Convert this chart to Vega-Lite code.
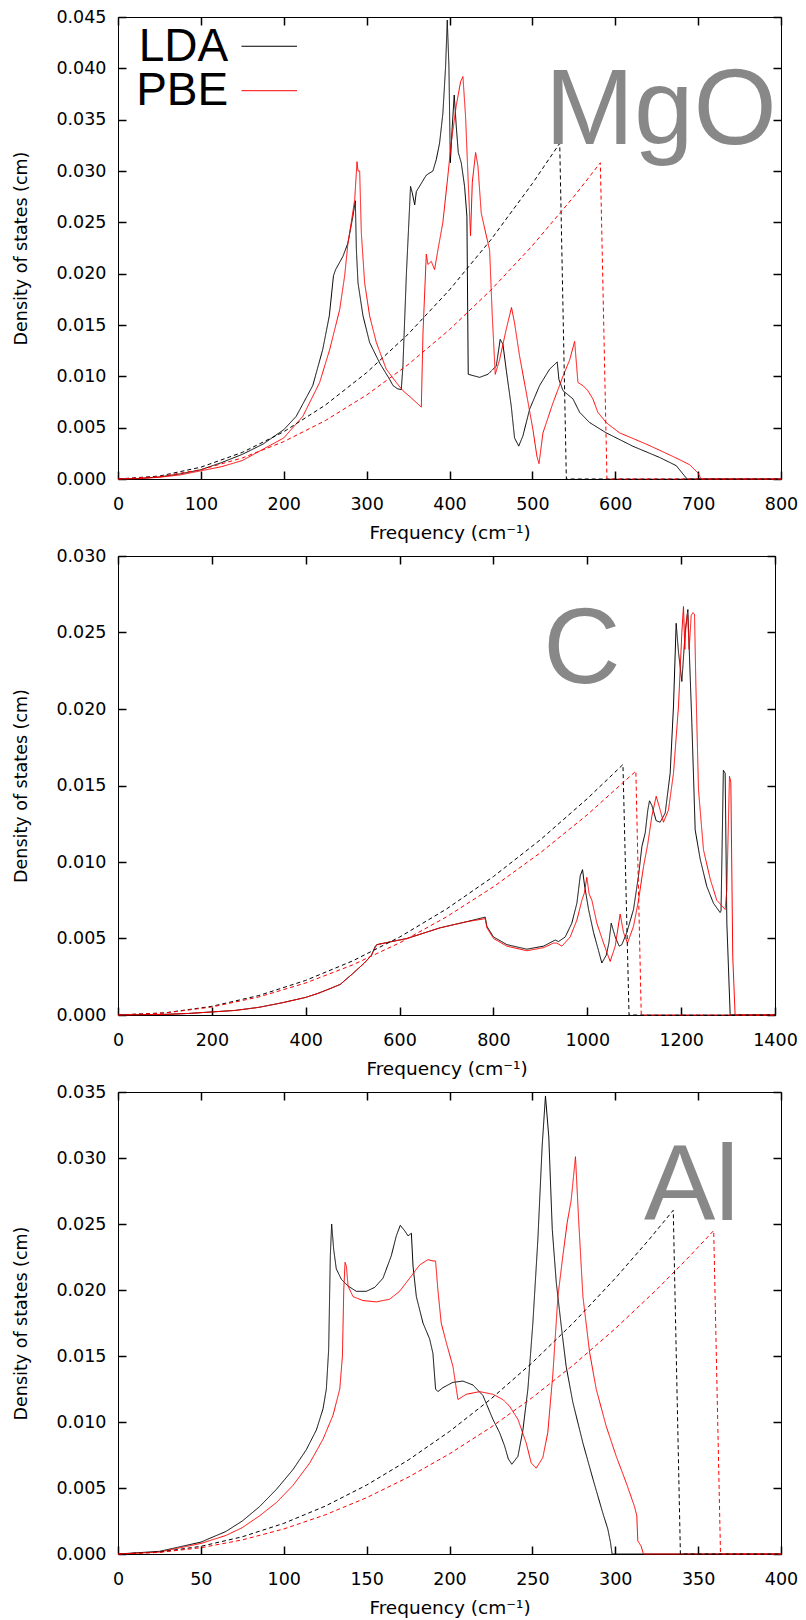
{
  "$schema": "https://vega.github.io/schema/vega-lite/v6.json",
  "background": "white",
  "padding": {"left": 12, "top": 7, "right": 4, "bottom": 2},
  "spacing": 77,
  "bounds": "flush",
  "config": {
    "view": {"stroke": "#000000", "strokeWidth": 1},
    "axis": {"grid": false, "domain": false, "tickColor": "#000000", "tickSize": 8, "offset": -8, "tickWidth": 1.5,
      "labelFont": "DejaVu Sans", "labelFontSize": 17.5, "labelColor": "#000000", "labelFlush": false, "labelOverlap": false,
      "titleFont": "DejaVu Sans", "titleFontWeight": "normal", "titleColor": "#000000"},
    "axisX": {"labelPadding": 16, "titlePadding": 10.5, "titleFontSize": 18.5},
    "axisY": {"labelPadding": 12, "titlePadding": 25, "titleFontSize": 17.5}
  },
  "datasets": {
    "curves": [
      {"p":"MgO","s":"LDA","k":"dos","f":0,"v":0},{"p":"MgO","s":"LDA","k":"dos","f":25,"v":0.00005},{"p":"MgO","s":"LDA","k":"dos","f":50,"v":0.0002},{"p":"MgO","s":"LDA","k":"dos","f":75,"v":0.0005},{"p":"MgO","s":"LDA","k":"dos","f":100,"v":0.0009},{"p":"MgO","s":"LDA","k":"dos","f":125,"v":0.0016},{"p":"MgO","s":"LDA","k":"dos","f":150,"v":0.0024},{"p":"MgO","s":"LDA","k":"dos","f":175,"v":0.0034},{"p":"MgO","s":"LDA","k":"dos","f":200,"v":0.0048},{"p":"MgO","s":"LDA","k":"dos","f":215,"v":0.0061},{"p":"MgO","s":"LDA","k":"dos","f":235,"v":0.0091},{"p":"MgO","s":"LDA","k":"dos","f":247,"v":0.0126},{"p":"MgO","s":"LDA","k":"dos","f":255,"v":0.0159},{"p":"MgO","s":"LDA","k":"dos","f":260,"v":0.0198},{"p":"MgO","s":"LDA","k":"dos","f":262.6,"v":0.0204},{"p":"MgO","s":"LDA","k":"dos","f":271.5,"v":0.0217},{"p":"MgO","s":"LDA","k":"dos","f":277.5,"v":0.023},{"p":"MgO","s":"LDA","k":"dos","f":283.5,"v":0.0256},{"p":"MgO","s":"LDA","k":"dos","f":286.4,"v":0.0271},{"p":"MgO","s":"LDA","k":"dos","f":287.6,"v":0.0224},{"p":"MgO","s":"LDA","k":"dos","f":289.6,"v":0.0191},{"p":"MgO","s":"LDA","k":"dos","f":295.6,"v":0.0159},{"p":"MgO","s":"LDA","k":"dos","f":303.6,"v":0.0133},{"p":"MgO","s":"LDA","k":"dos","f":315.7,"v":0.0113},{"p":"MgO","s":"LDA","k":"dos","f":327.8,"v":0.0097},{"p":"MgO","s":"LDA","k":"dos","f":331.8,"v":0.0091},{"p":"MgO","s":"LDA","k":"dos","f":337,"v":0.0088},{"p":"MgO","s":"LDA","k":"dos","f":341.8,"v":0.0087},{"p":"MgO","s":"LDA","k":"dos","f":343.8,"v":0.011},{"p":"MgO","s":"LDA","k":"dos","f":348,"v":0.02},{"p":"MgO","s":"LDA","k":"dos","f":353,"v":0.0285},{"p":"MgO","s":"LDA","k":"dos","f":355,"v":0.0279},{"p":"MgO","s":"LDA","k":"dos","f":358,"v":0.0267},{"p":"MgO","s":"LDA","k":"dos","f":360,"v":0.028},{"p":"MgO","s":"LDA","k":"dos","f":366,"v":0.0288},{"p":"MgO","s":"LDA","k":"dos","f":372,"v":0.0296},{"p":"MgO","s":"LDA","k":"dos","f":380,"v":0.03},{"p":"MgO","s":"LDA","k":"dos","f":384,"v":0.0311},{"p":"MgO","s":"LDA","k":"dos","f":388,"v":0.0327},{"p":"MgO","s":"LDA","k":"dos","f":392,"v":0.0356},{"p":"MgO","s":"LDA","k":"dos","f":395.3,"v":0.0402},{"p":"MgO","s":"LDA","k":"dos","f":397.3,"v":0.0447},{"p":"MgO","s":"LDA","k":"dos","f":399.3,"v":0.0402},{"p":"MgO","s":"LDA","k":"dos","f":401,"v":0.0308},{"p":"MgO","s":"LDA","k":"dos","f":403.3,"v":0.0343},{"p":"MgO","s":"LDA","k":"dos","f":405.7,"v":0.0374},{"p":"MgO","s":"LDA","k":"dos","f":408.2,"v":0.0343},{"p":"MgO","s":"LDA","k":"dos","f":410.6,"v":0.0318},{"p":"MgO","s":"LDA","k":"dos","f":414.2,"v":0.0308},{"p":"MgO","s":"LDA","k":"dos","f":418.2,"v":0.0285},{"p":"MgO","s":"LDA","k":"dos","f":421,"v":0.0256},{"p":"MgO","s":"LDA","k":"dos","f":422.6,"v":0.0102},{"p":"MgO","s":"LDA","k":"dos","f":436.3,"v":0.0099},{"p":"MgO","s":"LDA","k":"dos","f":446.4,"v":0.0102},{"p":"MgO","s":"LDA","k":"dos","f":456.4,"v":0.011},{"p":"MgO","s":"LDA","k":"dos","f":461.2,"v":0.0136},{"p":"MgO","s":"LDA","k":"dos","f":464.5,"v":0.0131},{"p":"MgO","s":"LDA","k":"dos","f":468.5,"v":0.0106},{"p":"MgO","s":"LDA","k":"dos","f":474.5,"v":0.0071},{"p":"MgO","s":"LDA","k":"dos","f":478.5,"v":0.004},{"p":"MgO","s":"LDA","k":"dos","f":483.5,"v":0.0032},{"p":"MgO","s":"LDA","k":"dos","f":488.6,"v":0.0042},{"p":"MgO","s":"LDA","k":"dos","f":496.7,"v":0.0068},{"p":"MgO","s":"LDA","k":"dos","f":508.7,"v":0.0091},{"p":"MgO","s":"LDA","k":"dos","f":520.8,"v":0.0107},{"p":"MgO","s":"LDA","k":"dos","f":530,"v":0.0114},{"p":"MgO","s":"LDA","k":"dos","f":532,"v":0.0097},{"p":"MgO","s":"LDA","k":"dos","f":537,"v":0.0086},{"p":"MgO","s":"LDA","k":"dos","f":549,"v":0.0078},{"p":"MgO","s":"LDA","k":"dos","f":557,"v":0.0065},{"p":"MgO","s":"LDA","k":"dos","f":569,"v":0.0055},{"p":"MgO","s":"LDA","k":"dos","f":589,"v":0.0045},{"p":"MgO","s":"LDA","k":"dos","f":621,"v":0.0032},{"p":"MgO","s":"LDA","k":"dos","f":653.5,"v":0.0021},{"p":"MgO","s":"LDA","k":"dos","f":673.6,"v":0.0013},{"p":"MgO","s":"LDA","k":"dos","f":683.6,"v":0.0003},{"p":"MgO","s":"LDA","k":"dos","f":686.8,"v":0},{"p":"MgO","s":"LDA","k":"dos","f":800,"v":0},

      {"p":"MgO","s":"PBE","k":"dos","f":0,"v":0},{"p":"MgO","s":"PBE","k":"dos","f":25,"v":0.00004},{"p":"MgO","s":"PBE","k":"dos","f":50,"v":0.00017},{"p":"MgO","s":"PBE","k":"dos","f":75,"v":0.0004},{"p":"MgO","s":"PBE","k":"dos","f":100,"v":0.0008},{"p":"MgO","s":"PBE","k":"dos","f":125,"v":0.0012},{"p":"MgO","s":"PBE","k":"dos","f":150,"v":0.0018},{"p":"MgO","s":"PBE","k":"dos","f":175,"v":0.0029},{"p":"MgO","s":"PBE","k":"dos","f":200,"v":0.004},{"p":"MgO","s":"PBE","k":"dos","f":223,"v":0.0061},{"p":"MgO","s":"PBE","k":"dos","f":243.3,"v":0.0094},{"p":"MgO","s":"PBE","k":"dos","f":255.4,"v":0.0126},{"p":"MgO","s":"PBE","k":"dos","f":267.5,"v":0.0165},{"p":"MgO","s":"PBE","k":"dos","f":273.5,"v":0.0198},{"p":"MgO","s":"PBE","k":"dos","f":277.5,"v":0.023},{"p":"MgO","s":"PBE","k":"dos","f":281.5,"v":0.025},{"p":"MgO","s":"PBE","k":"dos","f":285.6,"v":0.0272},{"p":"MgO","s":"PBE","k":"dos","f":288.4,"v":0.0309},{"p":"MgO","s":"PBE","k":"dos","f":289.6,"v":0.03},{"p":"MgO","s":"PBE","k":"dos","f":291.6,"v":0.03},{"p":"MgO","s":"PBE","k":"dos","f":293.6,"v":0.024},{"p":"MgO","s":"PBE","k":"dos","f":297.6,"v":0.0191},{"p":"MgO","s":"PBE","k":"dos","f":303.6,"v":0.0159},{"p":"MgO","s":"PBE","k":"dos","f":311.7,"v":0.0133},{"p":"MgO","s":"PBE","k":"dos","f":323.7,"v":0.0107},{"p":"MgO","s":"PBE","k":"dos","f":335.8,"v":0.0094},{"p":"MgO","s":"PBE","k":"dos","f":343.8,"v":0.0086},{"p":"MgO","s":"PBE","k":"dos","f":353.9,"v":0.0079},{"p":"MgO","s":"PBE","k":"dos","f":366,"v":0.007},{"p":"MgO","s":"PBE","k":"dos","f":368,"v":0.0142},{"p":"MgO","s":"PBE","k":"dos","f":372,"v":0.0219},{"p":"MgO","s":"PBE","k":"dos","f":374,"v":0.0209},{"p":"MgO","s":"PBE","k":"dos","f":378,"v":0.0212},{"p":"MgO","s":"PBE","k":"dos","f":382,"v":0.0204},{"p":"MgO","s":"PBE","k":"dos","f":386,"v":0.0223},{"p":"MgO","s":"PBE","k":"dos","f":392,"v":0.025},{"p":"MgO","s":"PBE","k":"dos","f":398,"v":0.0295},{"p":"MgO","s":"PBE","k":"dos","f":402,"v":0.0327},{"p":"MgO","s":"PBE","k":"dos","f":408,"v":0.0363},{"p":"MgO","s":"PBE","k":"dos","f":413.4,"v":0.0387},{"p":"MgO","s":"PBE","k":"dos","f":416.2,"v":0.0392},{"p":"MgO","s":"PBE","k":"dos","f":419.4,"v":0.0353},{"p":"MgO","s":"PBE","k":"dos","f":422.6,"v":0.0289},{"p":"MgO","s":"PBE","k":"dos","f":425.4,"v":0.0237},{"p":"MgO","s":"PBE","k":"dos","f":427.5,"v":0.0289},{"p":"MgO","s":"PBE","k":"dos","f":431.5,"v":0.0318},{"p":"MgO","s":"PBE","k":"dos","f":434.3,"v":0.0305},{"p":"MgO","s":"PBE","k":"dos","f":438.3,"v":0.0259},{"p":"MgO","s":"PBE","k":"dos","f":444.4,"v":0.0237},{"p":"MgO","s":"PBE","k":"dos","f":448.4,"v":0.0223},{"p":"MgO","s":"PBE","k":"dos","f":451.6,"v":0.0159},{"p":"MgO","s":"PBE","k":"dos","f":455.2,"v":0.0102},{"p":"MgO","s":"PBE","k":"dos","f":460.4,"v":0.0116},{"p":"MgO","s":"PBE","k":"dos","f":468.5,"v":0.0146},{"p":"MgO","s":"PBE","k":"dos","f":474.8,"v":0.0167},{"p":"MgO","s":"PBE","k":"dos","f":478.5,"v":0.0152},{"p":"MgO","s":"PBE","k":"dos","f":484.5,"v":0.012},{"p":"MgO","s":"PBE","k":"dos","f":492.7,"v":0.0084},{"p":"MgO","s":"PBE","k":"dos","f":500.7,"v":0.0048},{"p":"MgO","s":"PBE","k":"dos","f":505.5,"v":0.0022},{"p":"MgO","s":"PBE","k":"dos","f":508,"v":0.0015},{"p":"MgO","s":"PBE","k":"dos","f":512.8,"v":0.0045},{"p":"MgO","s":"PBE","k":"dos","f":524.8,"v":0.0074},{"p":"MgO","s":"PBE","k":"dos","f":536.9,"v":0.01},{"p":"MgO","s":"PBE","k":"dos","f":545,"v":0.0116},{"p":"MgO","s":"PBE","k":"dos","f":551,"v":0.0134},{"p":"MgO","s":"PBE","k":"dos","f":555,"v":0.0094},{"p":"MgO","s":"PBE","k":"dos","f":561,"v":0.0091},{"p":"MgO","s":"PBE","k":"dos","f":567,"v":0.0086},{"p":"MgO","s":"PBE","k":"dos","f":573,"v":0.0078},{"p":"MgO","s":"PBE","k":"dos","f":579,"v":0.0065},{"p":"MgO","s":"PBE","k":"dos","f":589,"v":0.0055},{"p":"MgO","s":"PBE","k":"dos","f":605,"v":0.0045},{"p":"MgO","s":"PBE","k":"dos","f":637.4,"v":0.0034},{"p":"MgO","s":"PBE","k":"dos","f":669.5,"v":0.0022},{"p":"MgO","s":"PBE","k":"dos","f":689.6,"v":0.0014},{"p":"MgO","s":"PBE","k":"dos","f":699.7,"v":0.0006},{"p":"MgO","s":"PBE","k":"dos","f":703.7,"v":0},{"p":"MgO","s":"PBE","k":"dos","f":800,"v":0},

      {"p":"MgO","s":"LDA","k":"debye","f":0,"v":0},{"p":"MgO","s":"LDA","k":"debye","f":50,"v":0.000288},{"p":"MgO","s":"LDA","k":"debye","f":100,"v":0.00115},{"p":"MgO","s":"LDA","k":"debye","f":150,"v":0.00259},{"p":"MgO","s":"LDA","k":"debye","f":200,"v":0.0046},{"p":"MgO","s":"LDA","k":"debye","f":250,"v":0.00719},{"p":"MgO","s":"LDA","k":"debye","f":300,"v":0.01036},{"p":"MgO","s":"LDA","k":"debye","f":350,"v":0.0141},{"p":"MgO","s":"LDA","k":"debye","f":400,"v":0.01842},{"p":"MgO","s":"LDA","k":"debye","f":450,"v":0.02331},{"p":"MgO","s":"LDA","k":"debye","f":500,"v":0.02878},{"p":"MgO","s":"LDA","k":"debye","f":533,"v":0.0327},{"p":"MgO","s":"LDA","k":"debye","f":541,"v":0},{"p":"MgO","s":"LDA","k":"debye","f":800,"v":0},

      {"p":"MgO","s":"PBE","k":"debye","f":0,"v":0},{"p":"MgO","s":"PBE","k":"debye","f":50,"v":0.000227},{"p":"MgO","s":"PBE","k":"debye","f":100,"v":0.000909},{"p":"MgO","s":"PBE","k":"debye","f":150,"v":0.00205},{"p":"MgO","s":"PBE","k":"debye","f":200,"v":0.00364},{"p":"MgO","s":"PBE","k":"debye","f":250,"v":0.00568},{"p":"MgO","s":"PBE","k":"debye","f":300,"v":0.00818},{"p":"MgO","s":"PBE","k":"debye","f":350,"v":0.01114},{"p":"MgO","s":"PBE","k":"debye","f":400,"v":0.01455},{"p":"MgO","s":"PBE","k":"debye","f":450,"v":0.01841},{"p":"MgO","s":"PBE","k":"debye","f":500,"v":0.02273},{"p":"MgO","s":"PBE","k":"debye","f":550,"v":0.0275},{"p":"MgO","s":"PBE","k":"debye","f":582,"v":0.0308},{"p":"MgO","s":"PBE","k":"debye","f":590,"v":0},{"p":"MgO","s":"PBE","k":"debye","f":800,"v":0},

      {"p":"C","s":"LDA","k":"dos","f":0,"v":0},{"p":"C","s":"LDA","k":"dos","f":100,"v":0.00004},{"p":"C","s":"LDA","k":"dos","f":150,"v":0.0001},{"p":"C","s":"LDA","k":"dos","f":200,"v":0.0002},{"p":"C","s":"LDA","k":"dos","f":250,"v":0.0003},{"p":"C","s":"LDA","k":"dos","f":300,"v":0.0005},{"p":"C","s":"LDA","k":"dos","f":350,"v":0.0008},{"p":"C","s":"LDA","k":"dos","f":400,"v":0.00115},{"p":"C","s":"LDA","k":"dos","f":425,"v":0.0014},{"p":"C","s":"LDA","k":"dos","f":450,"v":0.0017},{"p":"C","s":"LDA","k":"dos","f":473.6,"v":0.002},{"p":"C","s":"LDA","k":"dos","f":500,"v":0.0027},{"p":"C","s":"LDA","k":"dos","f":525,"v":0.0034},{"p":"C","s":"LDA","k":"dos","f":540,"v":0.0039},{"p":"C","s":"LDA","k":"dos","f":548.2,"v":0.0045},{"p":"C","s":"LDA","k":"dos","f":551.7,"v":0.0046},{"p":"C","s":"LDA","k":"dos","f":615.6,"v":0.005},{"p":"C","s":"LDA","k":"dos","f":686.6,"v":0.0057},{"p":"C","s":"LDA","k":"dos","f":743.4,"v":0.0061},{"p":"C","s":"LDA","k":"dos","f":782.5,"v":0.0064},{"p":"C","s":"LDA","k":"dos","f":786,"v":0.0058},{"p":"C","s":"LDA","k":"dos","f":800.2,"v":0.0051},{"p":"C","s":"LDA","k":"dos","f":828.7,"v":0.0046},{"p":"C","s":"LDA","k":"dos","f":871.3,"v":0.0043},{"p":"C","s":"LDA","k":"dos","f":906.8,"v":0.0045},{"p":"C","s":"LDA","k":"dos","f":931.6,"v":0.0049},{"p":"C","s":"LDA","k":"dos","f":938.8,"v":0.0048},{"p":"C","s":"LDA","k":"dos","f":953,"v":0.0051},{"p":"C","s":"LDA","k":"dos","f":967,"v":0.006},{"p":"C","s":"LDA","k":"dos","f":977.8,"v":0.0073},{"p":"C","s":"LDA","k":"dos","f":985,"v":0.0091},{"p":"C","s":"LDA","k":"dos","f":989.9,"v":0.0095},{"p":"C","s":"LDA","k":"dos","f":994,"v":0.0085},{"p":"C","s":"LDA","k":"dos","f":1002.7,"v":0.0069},{"p":"C","s":"LDA","k":"dos","f":1013.3,"v":0.0054},{"p":"C","s":"LDA","k":"dos","f":1024,"v":0.0042},{"p":"C","s":"LDA","k":"dos","f":1031,"v":0.0034},{"p":"C","s":"LDA","k":"dos","f":1040.3,"v":0.0039},{"p":"C","s":"LDA","k":"dos","f":1046,"v":0.0047},{"p":"C","s":"LDA","k":"dos","f":1051,"v":0.006},{"p":"C","s":"LDA","k":"dos","f":1059.5,"v":0.0051},{"p":"C","s":"LDA","k":"dos","f":1068,"v":0.0045},{"p":"C","s":"LDA","k":"dos","f":1073.7,"v":0.0046},{"p":"C","s":"LDA","k":"dos","f":1084.3,"v":0.0054},{"p":"C","s":"LDA","k":"dos","f":1098.5,"v":0.0069},{"p":"C","s":"LDA","k":"dos","f":1109.2,"v":0.0091},{"p":"C","s":"LDA","k":"dos","f":1116.3,"v":0.011},{"p":"C","s":"LDA","k":"dos","f":1123.4,"v":0.0119},{"p":"C","s":"LDA","k":"dos","f":1129,"v":0.0134},{"p":"C","s":"LDA","k":"dos","f":1132.6,"v":0.014},{"p":"C","s":"LDA","k":"dos","f":1137.6,"v":0.0137},{"p":"C","s":"LDA","k":"dos","f":1146.8,"v":0.0127},{"p":"C","s":"LDA","k":"dos","f":1155.3,"v":0.0126},{"p":"C","s":"LDA","k":"dos","f":1166,"v":0.0132},{"p":"C","s":"LDA","k":"dos","f":1176.6,"v":0.0158},{"p":"C","s":"LDA","k":"dos","f":1183.7,"v":0.0202},{"p":"C","s":"LDA","k":"dos","f":1189.4,"v":0.0256},{"p":"C","s":"LDA","k":"dos","f":1194.4,"v":0.0237},{"p":"C","s":"LDA","k":"dos","f":1201.5,"v":0.0218},{"p":"C","s":"LDA","k":"dos","f":1208.6,"v":0.025},{"p":"C","s":"LDA","k":"dos","f":1214.3,"v":0.0265},{"p":"C","s":"LDA","k":"dos","f":1217.8,"v":0.0234},{"p":"C","s":"LDA","k":"dos","f":1222.8,"v":0.0191},{"p":"C","s":"LDA","k":"dos","f":1229.9,"v":0.0121},{"p":"C","s":"LDA","k":"dos","f":1240.5,"v":0.0102},{"p":"C","s":"LDA","k":"dos","f":1254.7,"v":0.0084},{"p":"C","s":"LDA","k":"dos","f":1269,"v":0.0073},{"p":"C","s":"LDA","k":"dos","f":1283,"v":0.0067},{"p":"C","s":"LDA","k":"dos","f":1285,"v":0.0068},{"p":"C","s":"LDA","k":"dos","f":1290,"v":0.016},{"p":"C","s":"LDA","k":"dos","f":1293.8,"v":0.0158},{"p":"C","s":"LDA","k":"dos","f":1297.4,"v":0.006},{"p":"C","s":"LDA","k":"dos","f":1304.5,"v":0},{"p":"C","s":"LDA","k":"dos","f":1400,"v":0},

      {"p":"C","s":"PBE","k":"dos","f":0,"v":0},{"p":"C","s":"PBE","k":"dos","f":100,"v":0.00004},{"p":"C","s":"PBE","k":"dos","f":150,"v":0.0001},{"p":"C","s":"PBE","k":"dos","f":200,"v":0.0002},{"p":"C","s":"PBE","k":"dos","f":250,"v":0.0003},{"p":"C","s":"PBE","k":"dos","f":300,"v":0.0005},{"p":"C","s":"PBE","k":"dos","f":350,"v":0.0008},{"p":"C","s":"PBE","k":"dos","f":400,"v":0.00115},{"p":"C","s":"PBE","k":"dos","f":425,"v":0.0014},{"p":"C","s":"PBE","k":"dos","f":450,"v":0.0017},{"p":"C","s":"PBE","k":"dos","f":473.6,"v":0.002},{"p":"C","s":"PBE","k":"dos","f":500,"v":0.0027},{"p":"C","s":"PBE","k":"dos","f":525,"v":0.0034},{"p":"C","s":"PBE","k":"dos","f":540,"v":0.0039},{"p":"C","s":"PBE","k":"dos","f":548.2,"v":0.0044},{"p":"C","s":"PBE","k":"dos","f":551.7,"v":0.0046},{"p":"C","s":"PBE","k":"dos","f":615.6,"v":0.005},{"p":"C","s":"PBE","k":"dos","f":686.6,"v":0.0057},{"p":"C","s":"PBE","k":"dos","f":743.4,"v":0.0061},{"p":"C","s":"PBE","k":"dos","f":782.5,"v":0.0063},{"p":"C","s":"PBE","k":"dos","f":786,"v":0.0057},{"p":"C","s":"PBE","k":"dos","f":800.2,"v":0.005},{"p":"C","s":"PBE","k":"dos","f":828.7,"v":0.0045},{"p":"C","s":"PBE","k":"dos","f":871.3,"v":0.0042},{"p":"C","s":"PBE","k":"dos","f":906.8,"v":0.0044},{"p":"C","s":"PBE","k":"dos","f":928,"v":0.0047},{"p":"C","s":"PBE","k":"dos","f":935.2,"v":0.0047},{"p":"C","s":"PBE","k":"dos","f":945.9,"v":0.0045},{"p":"C","s":"PBE","k":"dos","f":963.6,"v":0.0051},{"p":"C","s":"PBE","k":"dos","f":977.8,"v":0.0062},{"p":"C","s":"PBE","k":"dos","f":988.5,"v":0.0075},{"p":"C","s":"PBE","k":"dos","f":994,"v":0.008},{"p":"C","s":"PBE","k":"dos","f":999,"v":0.009},{"p":"C","s":"PBE","k":"dos","f":1004,"v":0.0079},{"p":"C","s":"PBE","k":"dos","f":1009.8,"v":0.0075},{"p":"C","s":"PBE","k":"dos","f":1020.4,"v":0.006},{"p":"C","s":"PBE","k":"dos","f":1034.6,"v":0.0047},{"p":"C","s":"PBE","k":"dos","f":1048.8,"v":0.0035},{"p":"C","s":"PBE","k":"dos","f":1059.5,"v":0.0045},{"p":"C","s":"PBE","k":"dos","f":1070,"v":0.0066},{"p":"C","s":"PBE","k":"dos","f":1077.2,"v":0.0054},{"p":"C","s":"PBE","k":"dos","f":1085.7,"v":0.0047},{"p":"C","s":"PBE","k":"dos","f":1098.5,"v":0.0058},{"p":"C","s":"PBE","k":"dos","f":1109.2,"v":0.0075},{"p":"C","s":"PBE","k":"dos","f":1119.8,"v":0.0097},{"p":"C","s":"PBE","k":"dos","f":1129,"v":0.0112},{"p":"C","s":"PBE","k":"dos","f":1137.6,"v":0.013},{"p":"C","s":"PBE","k":"dos","f":1146.8,"v":0.0143},{"p":"C","s":"PBE","k":"dos","f":1155.3,"v":0.0134},{"p":"C","s":"PBE","k":"dos","f":1162.4,"v":0.0126},{"p":"C","s":"PBE","k":"dos","f":1173,"v":0.0134},{"p":"C","s":"PBE","k":"dos","f":1183.7,"v":0.0158},{"p":"C","s":"PBE","k":"dos","f":1194.4,"v":0.0202},{"p":"C","s":"PBE","k":"dos","f":1201.5,"v":0.025},{"p":"C","s":"PBE","k":"dos","f":1205,"v":0.0267},{"p":"C","s":"PBE","k":"dos","f":1207.9,"v":0.0239},{"p":"C","s":"PBE","k":"dos","f":1210,"v":0.0254},{"p":"C","s":"PBE","k":"dos","f":1213.6,"v":0.0263},{"p":"C","s":"PBE","k":"dos","f":1217.1,"v":0.0239},{"p":"C","s":"PBE","k":"dos","f":1221.4,"v":0.0261},{"p":"C","s":"PBE","k":"dos","f":1225,"v":0.0263},{"p":"C","s":"PBE","k":"dos","f":1228.5,"v":0.0262},{"p":"C","s":"PBE","k":"dos","f":1231.3,"v":0.0217},{"p":"C","s":"PBE","k":"dos","f":1237,"v":0.0147},{"p":"C","s":"PBE","k":"dos","f":1247.6,"v":0.0108},{"p":"C","s":"PBE","k":"dos","f":1261.8,"v":0.0089},{"p":"C","s":"PBE","k":"dos","f":1276,"v":0.0075},{"p":"C","s":"PBE","k":"dos","f":1293.8,"v":0.0069},{"p":"C","s":"PBE","k":"dos","f":1297.4,"v":0.0082},{"p":"C","s":"PBE","k":"dos","f":1303,"v":0.0156},{"p":"C","s":"PBE","k":"dos","f":1305.9,"v":0.0152},{"p":"C","s":"PBE","k":"dos","f":1310,"v":0.0038},{"p":"C","s":"PBE","k":"dos","f":1315,"v":0},{"p":"C","s":"PBE","k":"dos","f":1400,"v":0},

      {"p":"C","s":"LDA","k":"debye","f":0,"v":0},{"p":"C","s":"LDA","k":"debye","f":100,"v":0.000141},{"p":"C","s":"LDA","k":"debye","f":200,"v":0.000566},{"p":"C","s":"LDA","k":"debye","f":300,"v":0.001272},{"p":"C","s":"LDA","k":"debye","f":400,"v":0.002262},{"p":"C","s":"LDA","k":"debye","f":500,"v":0.003535},{"p":"C","s":"LDA","k":"debye","f":600,"v":0.00509},{"p":"C","s":"LDA","k":"debye","f":700,"v":0.006928},{"p":"C","s":"LDA","k":"debye","f":800,"v":0.009049},{"p":"C","s":"LDA","k":"debye","f":900,"v":0.011453},{"p":"C","s":"LDA","k":"debye","f":1000,"v":0.014139},{"p":"C","s":"LDA","k":"debye","f":1076,"v":0.01637},{"p":"C","s":"LDA","k":"debye","f":1089,"v":0},{"p":"C","s":"LDA","k":"debye","f":1400,"v":0},

      {"p":"C","s":"PBE","k":"debye","f":0,"v":0},{"p":"C","s":"PBE","k":"debye","f":100,"v":0.000131},{"p":"C","s":"PBE","k":"debye","f":200,"v":0.000524},{"p":"C","s":"PBE","k":"debye","f":300,"v":0.001178},{"p":"C","s":"PBE","k":"debye","f":400,"v":0.002094},{"p":"C","s":"PBE","k":"debye","f":500,"v":0.003273},{"p":"C","s":"PBE","k":"debye","f":600,"v":0.004713},{"p":"C","s":"PBE","k":"debye","f":700,"v":0.006414},{"p":"C","s":"PBE","k":"debye","f":800,"v":0.008378},{"p":"C","s":"PBE","k":"debye","f":900,"v":0.010603},{"p":"C","s":"PBE","k":"debye","f":1000,"v":0.01309},{"p":"C","s":"PBE","k":"debye","f":1103.5,"v":0.01594},{"p":"C","s":"PBE","k":"debye","f":1115,"v":0},{"p":"C","s":"PBE","k":"debye","f":1400,"v":0},

      {"p":"Al","s":"LDA","k":"dos","f":0,"v":0},{"p":"Al","s":"LDA","k":"dos","f":25,"v":0.0002},{"p":"Al","s":"LDA","k":"dos","f":50,"v":0.0009},{"p":"Al","s":"LDA","k":"dos","f":65,"v":0.0017},{"p":"Al","s":"LDA","k":"dos","f":75,"v":0.0025},{"p":"Al","s":"LDA","k":"dos","f":85.5,"v":0.0036},{"p":"Al","s":"LDA","k":"dos","f":95.6,"v":0.0049},{"p":"Al","s":"LDA","k":"dos","f":105.6,"v":0.0064},{"p":"Al","s":"LDA","k":"dos","f":113.6,"v":0.0079},{"p":"Al","s":"LDA","k":"dos","f":119.7,"v":0.0094},{"p":"Al","s":"LDA","k":"dos","f":123.7,"v":0.011},{"p":"Al","s":"LDA","k":"dos","f":125.7,"v":0.0125},{"p":"Al","s":"LDA","k":"dos","f":127.1,"v":0.0155},{"p":"Al","s":"LDA","k":"dos","f":128.1,"v":0.0226},{"p":"Al","s":"LDA","k":"dos","f":128.9,"v":0.025},{"p":"Al","s":"LDA","k":"dos","f":130.1,"v":0.0231},{"p":"Al","s":"LDA","k":"dos","f":131.7,"v":0.0216},{"p":"Al","s":"LDA","k":"dos","f":134.8,"v":0.0208},{"p":"Al","s":"LDA","k":"dos","f":138.8,"v":0.0203},{"p":"Al","s":"LDA","k":"dos","f":143.8,"v":0.0199},{"p":"Al","s":"LDA","k":"dos","f":149.8,"v":0.0199},{"p":"Al","s":"LDA","k":"dos","f":154.9,"v":0.0202},{"p":"Al","s":"LDA","k":"dos","f":159.9,"v":0.0209},{"p":"Al","s":"LDA","k":"dos","f":164.9,"v":0.0226},{"p":"Al","s":"LDA","k":"dos","f":167.9,"v":0.0241},{"p":"Al","s":"LDA","k":"dos","f":170.3,"v":0.0249},{"p":"Al","s":"LDA","k":"dos","f":172.9,"v":0.0245},{"p":"Al","s":"LDA","k":"dos","f":175,"v":0.0241},{"p":"Al","s":"LDA","k":"dos","f":177,"v":0.0243},{"p":"Al","s":"LDA","k":"dos","f":178,"v":0.0218},{"p":"Al","s":"LDA","k":"dos","f":180,"v":0.0195},{"p":"Al","s":"LDA","k":"dos","f":184,"v":0.0175},{"p":"Al","s":"LDA","k":"dos","f":188,"v":0.0163},{"p":"Al","s":"LDA","k":"dos","f":190,"v":0.0152},{"p":"Al","s":"LDA","k":"dos","f":191.6,"v":0.0125},{"p":"Al","s":"LDA","k":"dos","f":193,"v":0.0123},{"p":"Al","s":"LDA","k":"dos","f":196,"v":0.0126},{"p":"Al","s":"LDA","k":"dos","f":202,"v":0.013},{"p":"Al","s":"LDA","k":"dos","f":208.1,"v":0.0131},{"p":"Al","s":"LDA","k":"dos","f":214.2,"v":0.0128},{"p":"Al","s":"LDA","k":"dos","f":220.2,"v":0.012},{"p":"Al","s":"LDA","k":"dos","f":226.2,"v":0.0102},{"p":"Al","s":"LDA","k":"dos","f":230.2,"v":0.0092},{"p":"Al","s":"LDA","k":"dos","f":233.2,"v":0.0082},{"p":"Al","s":"LDA","k":"dos","f":235.5,"v":0.0072},{"p":"Al","s":"LDA","k":"dos","f":237.6,"v":0.0068},{"p":"Al","s":"LDA","k":"dos","f":241.3,"v":0.0074},{"p":"Al","s":"LDA","k":"dos","f":244.3,"v":0.0094},{"p":"Al","s":"LDA","k":"dos","f":247.3,"v":0.0125},{"p":"Al","s":"LDA","k":"dos","f":250.3,"v":0.0175},{"p":"Al","s":"LDA","k":"dos","f":253.3,"v":0.0238},{"p":"Al","s":"LDA","k":"dos","f":255.9,"v":0.0309},{"p":"Al","s":"LDA","k":"dos","f":257.9,"v":0.0347},{"p":"Al","s":"LDA","k":"dos","f":259.9,"v":0.0316},{"p":"Al","s":"LDA","k":"dos","f":262,"v":0.0246},{"p":"Al","s":"LDA","k":"dos","f":264.4,"v":0.0206},{"p":"Al","s":"LDA","k":"dos","f":267.4,"v":0.0173},{"p":"Al","s":"LDA","k":"dos","f":270.4,"v":0.0142},{"p":"Al","s":"LDA","k":"dos","f":274.4,"v":0.0115},{"p":"Al","s":"LDA","k":"dos","f":280.5,"v":0.0084},{"p":"Al","s":"LDA","k":"dos","f":286.5,"v":0.0057},{"p":"Al","s":"LDA","k":"dos","f":292.5,"v":0.0031},{"p":"Al","s":"LDA","k":"dos","f":295.5,"v":0.0019},{"p":"Al","s":"LDA","k":"dos","f":297.1,"v":0.0009},{"p":"Al","s":"LDA","k":"dos","f":298.1,"v":0},{"p":"Al","s":"LDA","k":"dos","f":400,"v":0},

      {"p":"Al","s":"PBE","k":"dos","f":0,"v":0},{"p":"Al","s":"PBE","k":"dos","f":25,"v":0.00015},{"p":"Al","s":"PBE","k":"dos","f":50,"v":0.0008},{"p":"Al","s":"PBE","k":"dos","f":65,"v":0.0014},{"p":"Al","s":"PBE","k":"dos","f":75,"v":0.002},{"p":"Al","s":"PBE","k":"dos","f":85.5,"v":0.0029},{"p":"Al","s":"PBE","k":"dos","f":95.6,"v":0.0039},{"p":"Al","s":"PBE","k":"dos","f":105.6,"v":0.0052},{"p":"Al","s":"PBE","k":"dos","f":115.7,"v":0.0069},{"p":"Al","s":"PBE","k":"dos","f":123.7,"v":0.0087},{"p":"Al","s":"PBE","k":"dos","f":129.7,"v":0.0105},{"p":"Al","s":"PBE","k":"dos","f":133.8,"v":0.0125},{"p":"Al","s":"PBE","k":"dos","f":135.4,"v":0.015},{"p":"Al","s":"PBE","k":"dos","f":136.2,"v":0.02},{"p":"Al","s":"PBE","k":"dos","f":137,"v":0.0221},{"p":"Al","s":"PBE","k":"dos","f":137.8,"v":0.0218},{"p":"Al","s":"PBE","k":"dos","f":138.8,"v":0.0203},{"p":"Al","s":"PBE","k":"dos","f":141.8,"v":0.0195},{"p":"Al","s":"PBE","k":"dos","f":147.8,"v":0.0192},{"p":"Al","s":"PBE","k":"dos","f":155.9,"v":0.0191},{"p":"Al","s":"PBE","k":"dos","f":163.9,"v":0.0193},{"p":"Al","s":"PBE","k":"dos","f":169.9,"v":0.0199},{"p":"Al","s":"PBE","k":"dos","f":176,"v":0.0209},{"p":"Al","s":"PBE","k":"dos","f":182,"v":0.0219},{"p":"Al","s":"PBE","k":"dos","f":187,"v":0.0223},{"p":"Al","s":"PBE","k":"dos","f":190,"v":0.0222},{"p":"Al","s":"PBE","k":"dos","f":191.6,"v":0.0222},{"p":"Al","s":"PBE","k":"dos","f":193,"v":0.02},{"p":"Al","s":"PBE","k":"dos","f":195,"v":0.0175},{"p":"Al","s":"PBE","k":"dos","f":198.1,"v":0.016},{"p":"Al","s":"PBE","k":"dos","f":202.1,"v":0.0142},{"p":"Al","s":"PBE","k":"dos","f":205.1,"v":0.0117},{"p":"Al","s":"PBE","k":"dos","f":210.1,"v":0.0121},{"p":"Al","s":"PBE","k":"dos","f":218.2,"v":0.0123},{"p":"Al","s":"PBE","k":"dos","f":226.2,"v":0.0121},{"p":"Al","s":"PBE","k":"dos","f":232.2,"v":0.0117},{"p":"Al","s":"PBE","k":"dos","f":236.2,"v":0.0112},{"p":"Al","s":"PBE","k":"dos","f":241.3,"v":0.0102},{"p":"Al","s":"PBE","k":"dos","f":246.3,"v":0.0084},{"p":"Al","s":"PBE","k":"dos","f":249.3,"v":0.0069},{"p":"Al","s":"PBE","k":"dos","f":252.3,"v":0.0065},{"p":"Al","s":"PBE","k":"dos","f":256.3,"v":0.0073},{"p":"Al","s":"PBE","k":"dos","f":259.3,"v":0.0092},{"p":"Al","s":"PBE","k":"dos","f":262.4,"v":0.0137},{"p":"Al","s":"PBE","k":"dos","f":265.4,"v":0.0195},{"p":"Al","s":"PBE","k":"dos","f":268.4,"v":0.0226},{"p":"Al","s":"PBE","k":"dos","f":271,"v":0.0251},{"p":"Al","s":"PBE","k":"dos","f":273.4,"v":0.0268},{"p":"Al","s":"PBE","k":"dos","f":276,"v":0.0301},{"p":"Al","s":"PBE","k":"dos","f":278,"v":0.0251},{"p":"Al","s":"PBE","k":"dos","f":280.5,"v":0.0195},{"p":"Al","s":"PBE","k":"dos","f":284.5,"v":0.0153},{"p":"Al","s":"PBE","k":"dos","f":288.5,"v":0.0125},{"p":"Al","s":"PBE","k":"dos","f":294.5,"v":0.0097},{"p":"Al","s":"PBE","k":"dos","f":300.6,"v":0.0074},{"p":"Al","s":"PBE","k":"dos","f":306.6,"v":0.0054},{"p":"Al","s":"PBE","k":"dos","f":311.6,"v":0.0036},{"p":"Al","s":"PBE","k":"dos","f":313,"v":0.0029},{"p":"Al","s":"PBE","k":"dos","f":313.6,"v":0.001},{"p":"Al","s":"PBE","k":"dos","f":315.6,"v":0.0006},{"p":"Al","s":"PBE","k":"dos","f":317,"v":0},{"p":"Al","s":"PBE","k":"dos","f":400,"v":0},

      {"p":"Al","s":"LDA","k":"debye","f":0,"v":0},{"p":"Al","s":"LDA","k":"debye","f":25,"v":0.000145},{"p":"Al","s":"LDA","k":"debye","f":50,"v":0.00058},{"p":"Al","s":"LDA","k":"debye","f":75,"v":0.001305},{"p":"Al","s":"LDA","k":"debye","f":100,"v":0.00232},{"p":"Al","s":"LDA","k":"debye","f":125,"v":0.003625},{"p":"Al","s":"LDA","k":"debye","f":150,"v":0.005221},{"p":"Al","s":"LDA","k":"debye","f":175,"v":0.007106},{"p":"Al","s":"LDA","k":"debye","f":200,"v":0.009281},{"p":"Al","s":"LDA","k":"debye","f":225,"v":0.011747},{"p":"Al","s":"LDA","k":"debye","f":250,"v":0.014502},{"p":"Al","s":"LDA","k":"debye","f":275,"v":0.017548},{"p":"Al","s":"LDA","k":"debye","f":300,"v":0.020884},{"p":"Al","s":"LDA","k":"debye","f":320,"v":0.02376},{"p":"Al","s":"LDA","k":"debye","f":335,"v":0.02604},{"p":"Al","s":"LDA","k":"debye","f":339.3,"v":0},{"p":"Al","s":"LDA","k":"debye","f":400,"v":0},

      {"p":"Al","s":"PBE","k":"debye","f":0,"v":0},{"p":"Al","s":"PBE","k":"debye","f":25,"v":0.000119},{"p":"Al","s":"PBE","k":"debye","f":50,"v":0.000474},{"p":"Al","s":"PBE","k":"debye","f":75,"v":0.001067},{"p":"Al","s":"PBE","k":"debye","f":100,"v":0.001897},{"p":"Al","s":"PBE","k":"debye","f":125,"v":0.002964},{"p":"Al","s":"PBE","k":"debye","f":150,"v":0.004268},{"p":"Al","s":"PBE","k":"debye","f":175,"v":0.005809},{"p":"Al","s":"PBE","k":"debye","f":200,"v":0.007587},{"p":"Al","s":"PBE","k":"debye","f":225,"v":0.009602},{"p":"Al","s":"PBE","k":"debye","f":250,"v":0.011855},{"p":"Al","s":"PBE","k":"debye","f":275,"v":0.014344},{"p":"Al","s":"PBE","k":"debye","f":300,"v":0.017071},{"p":"Al","s":"PBE","k":"debye","f":325,"v":0.020034},{"p":"Al","s":"PBE","k":"debye","f":345,"v":0.022576},{"p":"Al","s":"PBE","k":"debye","f":359.4,"v":0.0245},{"p":"Al","s":"PBE","k":"debye","f":363.5,"v":0},{"p":"Al","s":"PBE","k":"debye","f":400,"v":0}
    ],
    "labels": [
      {"p":"MgO","t":"MgO","f":655,"v":0.0326},
      {"p":"C","t":"C","f":988.5,"v":0.02172},
      {"p":"Al","t":"Al","f":346,"v":0.02534}
    ],
    "legend": [
      {"s":"LDA","f":133,"v":0.0407,"f1":149,"f2":216,"lv":0.04215},
      {"s":"PBE","f":133,"v":0.0364,"f1":149,"f2":216,"lv":0.03782}
    ]
  },
  "vconcat": [
    {
      "width": 663, "height": 462,
      "resolve": {"axis": {"x": "independent", "y": "independent"}},
      "layer": [
        {
          "data": {"name": "curves"},
          "transform": [{"filter": "datum.p === 'MgO'"}],
          "mark": {"type": "line", "strokeWidth": 1},
          "encoding": {
            "x": {"field": "f", "type": "quantitative", "scale": {"domain": [0, 800], "nice": false, "zero": false},
              "axis": {"orient": "bottom", "title": "Frequency (cm⁻¹)", "values": [0,100,200,300,400,500,600,700,800], "format": "d"}},
            "y": {"field": "v", "type": "quantitative", "scale": {"domain": [0, 0.045], "nice": false},
              "axis": {"orient": "left", "title": "Density of states (cm)", "values": [0,0.005,0.01,0.015,0.02,0.025,0.03,0.035,0.04,0.045], "format": ".3f"}},
            "color": {"field": "s", "type": "nominal", "scale": {"domain": ["LDA","PBE"], "range": ["#000000","#ff0000"]}, "legend": null},
            "strokeDash": {"field": "k", "type": "nominal", "scale": {"domain": ["dos","debye"], "range": [[1,0],[4,3]]}, "legend": null}
          }
        },
        {
          "data": {"name": "labels"},
          "transform": [{"filter": "datum.p === 'MgO'"}],
          "mark": {"type": "text", "font": "Liberation Sans", "fontSize": 107, "color": "#888888", "align": "center", "baseline": "alphabetic"},
          "encoding": {
            "x": {"field": "f", "type": "quantitative", "axis": {"orient": "top", "labels": false, "title": null, "values": [0,100,200,300,400,500,600,700,800]}},
            "y": {"field": "v", "type": "quantitative", "axis": {"orient": "right", "labels": false, "title": null, "values": [0,0.005,0.01,0.015,0.02,0.025,0.03,0.035,0.04,0.045]}},
            "text": {"field": "t"}
          }
        },
        {
          "data": {"name": "legend"},
          "mark": {"type": "text", "font": "Liberation Sans", "fontSize": 46, "color": "#000000", "align": "right", "baseline": "alphabetic"},
          "encoding": {
            "x": {"field": "f", "type": "quantitative", "axis": null},
            "y": {"field": "v", "type": "quantitative", "axis": null},
            "text": {"field": "s"}
          }
        },
        {
          "data": {"name": "legend"},
          "mark": {"type": "rule", "strokeWidth": 1},
          "encoding": {
            "x": {"field": "f1", "type": "quantitative", "axis": null},
            "x2": {"field": "f2"},
            "y": {"field": "lv", "type": "quantitative", "axis": null},
            "color": {"field": "s", "type": "nominal", "scale": {"domain": ["LDA","PBE"], "range": ["#000000","#ff0000"]}, "legend": null}
          }
        }
      ]
    },
    {
      "width": 657, "height": 459,
      "resolve": {"axis": {"x": "independent", "y": "independent"}},
      "layer": [
        {
          "data": {"name": "curves"},
          "transform": [{"filter": "datum.p === 'C'"}],
          "mark": {"type": "line", "strokeWidth": 1},
          "encoding": {
            "x": {"field": "f", "type": "quantitative", "scale": {"domain": [0, 1400], "nice": false, "zero": false},
              "axis": {"orient": "bottom", "title": "Frequency (cm⁻¹)", "values": [0,200,400,600,800,1000,1200,1400], "format": "d"}},
            "y": {"field": "v", "type": "quantitative", "scale": {"domain": [0, 0.03], "nice": false},
              "axis": {"orient": "left", "title": "Density of states (cm)", "values": [0,0.005,0.01,0.015,0.02,0.025,0.03], "format": ".3f"}},
            "color": {"field": "s", "type": "nominal", "scale": {"domain": ["LDA","PBE"], "range": ["#000000","#ff0000"]}, "legend": null},
            "strokeDash": {"field": "k", "type": "nominal", "scale": {"domain": ["dos","debye"], "range": [[1,0],[4,3]]}, "legend": null}
          }
        },
        {
          "data": {"name": "labels"},
          "transform": [{"filter": "datum.p === 'C'"}],
          "mark": {"type": "text", "font": "Liberation Sans", "fontSize": 107, "color": "#888888", "align": "center", "baseline": "alphabetic"},
          "encoding": {
            "x": {"field": "f", "type": "quantitative", "axis": {"orient": "top", "labels": false, "title": null, "values": [0,200,400,600,800,1000,1200,1400]}},
            "y": {"field": "v", "type": "quantitative", "axis": {"orient": "right", "labels": false, "title": null, "values": [0,0.005,0.01,0.015,0.02,0.025,0.03]}},
            "text": {"field": "t"}
          }
        }
      ]
    },
    {
      "width": 663, "height": 462,
      "resolve": {"axis": {"x": "independent", "y": "independent"}},
      "layer": [
        {
          "data": {"name": "curves"},
          "transform": [{"filter": "datum.p === 'Al'"}],
          "mark": {"type": "line", "strokeWidth": 1},
          "encoding": {
            "x": {"field": "f", "type": "quantitative", "scale": {"domain": [0, 400], "nice": false, "zero": false},
              "axis": {"orient": "bottom", "title": "Frequency (cm⁻¹)", "values": [0,50,100,150,200,250,300,350,400], "format": "d"}},
            "y": {"field": "v", "type": "quantitative", "scale": {"domain": [0, 0.035], "nice": false},
              "axis": {"orient": "left", "title": "Density of states (cm)", "values": [0,0.005,0.01,0.015,0.02,0.025,0.03,0.035], "format": ".3f"}},
            "color": {"field": "s", "type": "nominal", "scale": {"domain": ["LDA","PBE"], "range": ["#000000","#ff0000"]}, "legend": null},
            "strokeDash": {"field": "k", "type": "nominal", "scale": {"domain": ["dos","debye"], "range": [[1,0],[4,3]]}, "legend": null}
          }
        },
        {
          "data": {"name": "labels"},
          "transform": [{"filter": "datum.p === 'Al'"}],
          "mark": {"type": "text", "font": "Liberation Sans", "fontSize": 107, "color": "#888888", "align": "center", "baseline": "alphabetic"},
          "encoding": {
            "x": {"field": "f", "type": "quantitative", "axis": {"orient": "top", "labels": false, "title": null, "values": [0,50,100,150,200,250,300,350,400]}},
            "y": {"field": "v", "type": "quantitative", "axis": {"orient": "right", "labels": false, "title": null, "values": [0,0.005,0.01,0.015,0.02,0.025,0.03,0.035]}},
            "text": {"field": "t"}
          }
        }
      ]
    }
  ]
}
